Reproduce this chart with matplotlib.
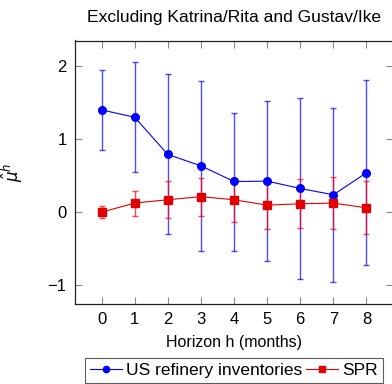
import matplotlib
matplotlib.use("Agg")
import matplotlib.pyplot as plt
from matplotlib.lines import Line2D

plt.rcParams['font.family'] = ['Liberation Sans', 'DejaVu Sans']
plt.rcParams['mathtext.fontset'] = 'dejavusans'

horizons = [0, 1, 2, 3, 4, 5, 6, 7, 8]
refinery = [1.40, 1.30, 0.79, 0.635, 0.42, 0.425, 0.325, 0.238, 0.54]
refinery_hi = [1.95, 2.05, 1.89, 1.80, 1.36, 1.52, 1.56, 1.43, 1.81]
refinery_lo = [0.85, 0.55, -0.30, -0.525, -0.525, -0.67, -0.92, -0.96, -0.725]
spr = [0.0, 0.125, 0.17, 0.213, 0.17, 0.096, 0.115, 0.124, 0.06]
spr_hi = [0.078, 0.293, 0.42, 0.47, 0.466, 0.42, 0.448, 0.485, 0.42]
spr_lo = [-0.082, -0.049, -0.082, -0.05, -0.128, -0.233, -0.223, -0.233, -0.30]
xticks = [0, 1, 2, 3, 4, 5, 6, 7, 8]
yticks = [-1, 0, 1, 2]

W, H = 392, 384
fig = plt.figure(figsize=(W / 100, H / 100), dpi=100)
ax = fig.add_axes([75 / W, (H - 303.5) / H, 318 / W, 263 / H])

def err(vals, lo, hi):
    return [[v - l for v, l in zip(vals, lo)], [h - v for v, h in zip(vals, hi)]]

ax.errorbar(horizons, refinery, yerr=err(refinery, refinery_lo, refinery_hi),
            fmt='none', ecolor=(0, 0, 1, 0.7), elinewidth=1.0, capsize=2.5, capthick=1.0, zorder=2)
ax.errorbar(horizons, spr, yerr=err(spr, spr_lo, spr_hi),
            fmt='none', ecolor=(1, 0, 0, 0.7), elinewidth=1.0, capsize=2.5, capthick=1.0, zorder=2)
ax.plot(horizons, refinery, color='blue', lw=0.8, marker='o', markersize=5.5, zorder=3)
ax.plot(horizons, spr, color='#e00000', lw=0.8, marker='s', markersize=5.5, zorder=3)

ax.set_xlim(-0.8, 8.8)
ax.set_ylim(-1.25, 2.35)
ax.set_xticks(xticks)
ax.set_yticks(yticks)
ax.set_yticklabels(['\u22121', '0', '1', '2'])
ax.tick_params(direction='in', length=5, width=0.8, color='#888888', labelsize=12,
               top=True, right=True, pad=6)
for s in ax.spines.values():
    s.set_linewidth(0.9)
    s.set_color('#222222')

ax.set_title('Excluding Katrina/Rita and Gustav/Ike', fontsize=12.6, pad=13)
ax.set_xlabel('Horizon h (months)', fontsize=11.5, labelpad=6)
ax.set_ylabel(r'$\hat{\mu}^h$', fontsize=12, labelpad=16)

handles = [
    Line2D([], [], color='blue', lw=0.8, marker='o', markersize=4.5),
    Line2D([], [], color='#e00000', lw=0.8, marker='s', markersize=4.5),
]
leg = fig.legend(handles, ['US refinery inventories', 'SPR'], ncol=2, loc='upper center',
                 bbox_to_anchor=(234 / W, 1 - 357.7 / H), fontsize=12.5, frameon=True,
                 fancybox=False, edgecolor='#333333', handlelength=1.8, handletextpad=0.25,
                 columnspacing=0.25, borderpad=0.3, borderaxespad=0)
leg.get_frame().set_linewidth(0.8)

fig.savefig('out.png', dpi=100)
